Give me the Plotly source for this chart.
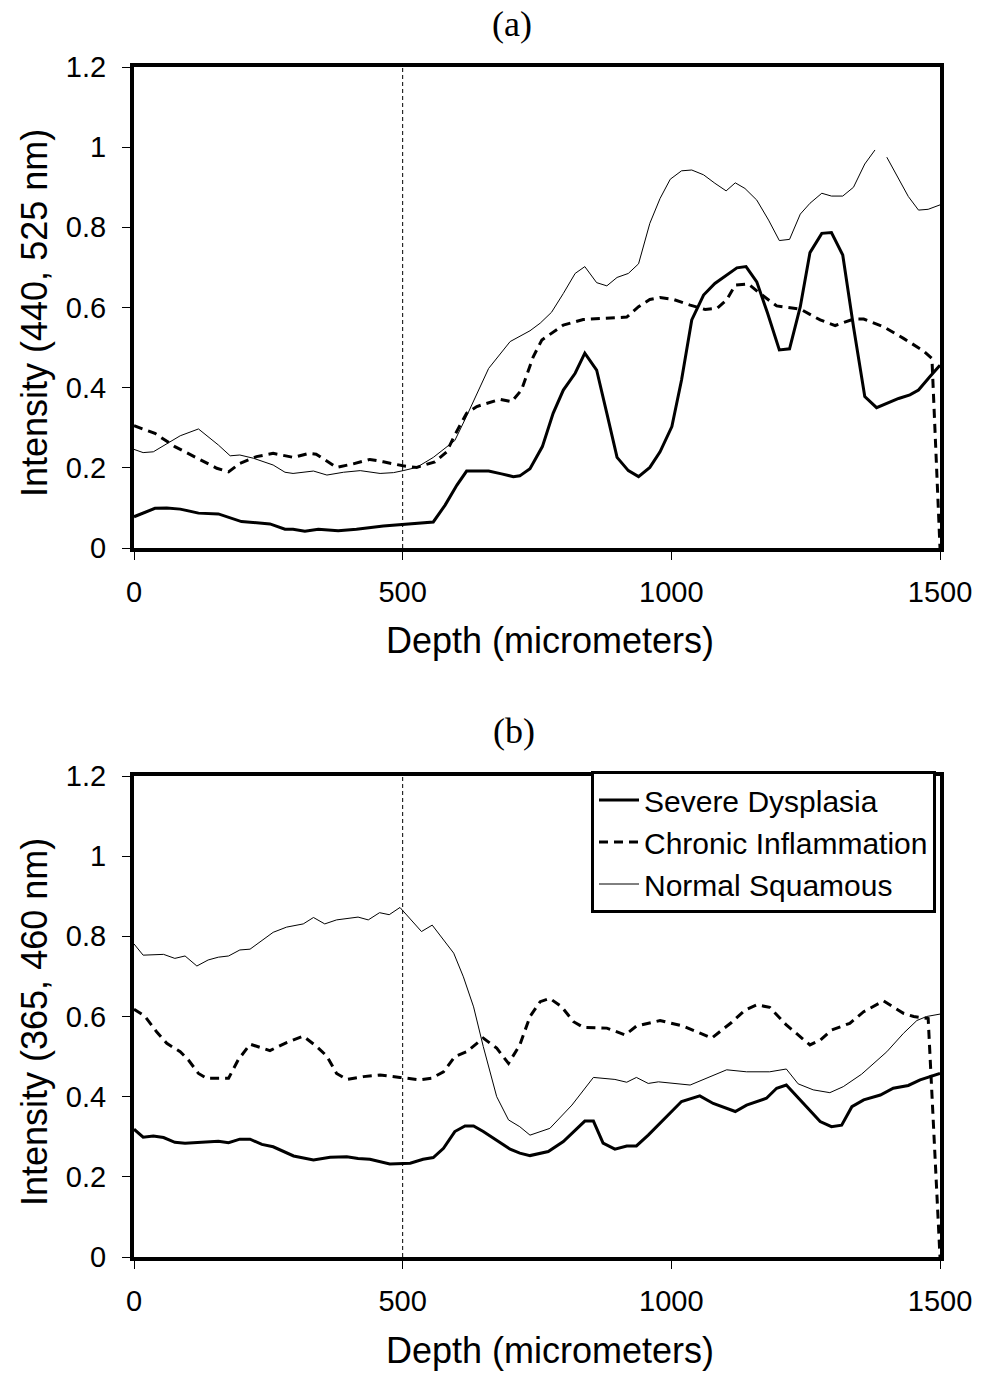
import plotly.graph_objects as go

# ---------------- data ----------------
series_names = ["Severe Dysplasia", "Chronic Inflammation", "Normal Squamous"]

# Panel (a): Intensity (440, 525 nm)
a_sd_x = [0, 39, 61, 86, 120, 157, 200, 253, 281, 296, 318, 343, 380, 414, 464, 501, 532, 557, 579, 601, 619, 660, 684, 706, 718, 737, 760, 780, 799, 821, 839, 861, 880, 899, 920, 939, 960, 979, 1001, 1019, 1038, 1060, 1081, 1103, 1122, 1139, 1159, 1179, 1201, 1220, 1240, 1258, 1280, 1298, 1319, 1339, 1360, 1382, 1401, 1423, 1444, 1460, 1481, 1500]
a_sd_y = [0.078, 0.099, 0.100, 0.097, 0.087, 0.085, 0.066, 0.060, 0.047, 0.047, 0.042, 0.047, 0.043, 0.047, 0.055, 0.059, 0.063, 0.065, 0.107, 0.157, 0.192, 0.192, 0.185, 0.178, 0.180, 0.198, 0.253, 0.336, 0.394, 0.436, 0.486, 0.444, 0.336, 0.226, 0.193, 0.178, 0.201, 0.240, 0.303, 0.419, 0.569, 0.631, 0.660, 0.681, 0.699, 0.702, 0.664, 0.586, 0.494, 0.497, 0.602, 0.737, 0.785, 0.787, 0.731, 0.552, 0.378, 0.350, 0.361, 0.373, 0.382, 0.394, 0.427, 0.456]

a_ci_x = [0, 39, 76, 117, 154, 176, 197, 228, 259, 297, 325, 339, 377, 408, 439, 464, 501, 526, 560, 582, 597, 619, 638, 681, 703, 721, 743, 759, 799, 836, 873, 917, 939, 960, 979, 1004, 1035, 1063, 1085, 1103, 1119, 1143, 1165, 1196, 1240, 1277, 1305, 1339, 1358, 1395, 1432, 1469, 1485, 1500]
a_ci_y = [0.305, 0.286, 0.253, 0.224, 0.199, 0.190, 0.211, 0.228, 0.236, 0.226, 0.236, 0.234, 0.201, 0.210, 0.221, 0.215, 0.205, 0.201, 0.215, 0.240, 0.282, 0.336, 0.353, 0.371, 0.365, 0.394, 0.477, 0.519, 0.556, 0.570, 0.573, 0.576, 0.602, 0.620, 0.625, 0.620, 0.606, 0.595, 0.598, 0.619, 0.656, 0.659, 0.635, 0.604, 0.596, 0.569, 0.555, 0.571, 0.571, 0.552, 0.523, 0.492, 0.473, 0.0]

a_ns_x = [0, 17, 36, 61, 86, 120, 157, 179, 197, 222, 259, 281, 296, 334, 359, 390, 421, 458, 483, 501, 526, 557, 597, 619, 638, 660, 700, 737, 756, 777, 799, 821, 839, 861, 880, 899, 920, 939, 960, 979, 998, 1019, 1038, 1060, 1081, 1102, 1119, 1137, 1159, 1181, 1201, 1220, 1240, 1258, 1280, 1298, 1319, 1339, 1360, 1379, 1390, 1401, 1419, 1441, 1460, 1478, 1500]
a_ns_y = [0.246, 0.238, 0.240, 0.261, 0.280, 0.297, 0.257, 0.230, 0.232, 0.224, 0.207, 0.189, 0.186, 0.192, 0.182, 0.189, 0.193, 0.186, 0.188, 0.193, 0.201, 0.226, 0.268, 0.329, 0.386, 0.448, 0.515, 0.542, 0.561, 0.588, 0.635, 0.685, 0.702, 0.662, 0.654, 0.675, 0.685, 0.709, 0.810, 0.872, 0.920, 0.941, 0.943, 0.931, 0.910, 0.891, 0.911, 0.897, 0.868, 0.818, 0.767, 0.770, 0.833, 0.860, 0.885, 0.878, 0.878, 0.900, 0.958, 0.993, None, 0.975, 0.931, 0.877, 0.843, 0.845, 0.856]

# Panel (b): Intensity (365, 460 nm)
b_sd_x = [0, 17, 36, 55, 76, 95, 157, 176, 197, 216, 238, 259, 297, 334, 365, 396, 417, 439, 476, 514, 538, 557, 576, 597, 616, 632, 650, 675, 700, 718, 737, 771, 799, 839, 855, 873, 895, 917, 935, 957, 997, 1019, 1053, 1078, 1119, 1140, 1177, 1196, 1214, 1240, 1277, 1298, 1317, 1336, 1358, 1389, 1413, 1441, 1463, 1500]
b_sd_y = [0.319, 0.299, 0.302, 0.298, 0.286, 0.284, 0.289, 0.285, 0.294, 0.294, 0.281, 0.275, 0.252, 0.242, 0.249, 0.250, 0.246, 0.244, 0.232, 0.234, 0.244, 0.248, 0.271, 0.313, 0.327, 0.327, 0.313, 0.292, 0.269, 0.259, 0.253, 0.263, 0.288, 0.339, 0.339, 0.284, 0.269, 0.277, 0.277, 0.304, 0.359, 0.388, 0.402, 0.383, 0.363, 0.379, 0.396, 0.421, 0.429, 0.392, 0.338, 0.325, 0.329, 0.375, 0.392, 0.404, 0.421, 0.428, 0.442, 0.458]

b_ci_x = [0, 20, 42, 61, 86, 101, 120, 135, 176, 194, 216, 253, 284, 315, 340, 359, 377, 396, 427, 458, 495, 532, 554, 576, 597, 619, 650, 675, 697, 718, 737, 756, 774, 796, 818, 836, 880, 914, 935, 979, 1022, 1075, 1112, 1137, 1159, 1183, 1214, 1258, 1277, 1298, 1332, 1358, 1395, 1432, 1451, 1478, 1500]
b_ci_y = [0.618, 0.601, 0.562, 0.533, 0.512, 0.492, 0.458, 0.446, 0.446, 0.492, 0.531, 0.515, 0.535, 0.551, 0.525, 0.501, 0.458, 0.443, 0.450, 0.454, 0.448, 0.442, 0.446, 0.462, 0.500, 0.512, 0.546, 0.521, 0.483, 0.529, 0.600, 0.637, 0.645, 0.624, 0.587, 0.573, 0.571, 0.554, 0.576, 0.590, 0.576, 0.546, 0.585, 0.616, 0.629, 0.623, 0.579, 0.529, 0.541, 0.566, 0.583, 0.612, 0.639, 0.608, 0.600, 0.595, 0.0]

b_ns_x = [0, 17, 55, 76, 95, 117, 138, 157, 176, 197, 216, 259, 284, 315, 334, 355, 377, 417, 436, 457, 475, 495, 535, 555, 595, 613, 632, 650, 675, 697, 718, 737, 774, 815, 855, 895, 917, 935, 957, 976, 1035, 1066, 1103, 1140, 1183, 1214, 1236, 1264, 1295, 1320, 1354, 1401, 1432, 1457, 1475, 1500]
b_ns_y = [0.781, 0.753, 0.755, 0.745, 0.751, 0.726, 0.741, 0.748, 0.751, 0.766, 0.768, 0.810, 0.823, 0.831, 0.847, 0.831, 0.841, 0.848, 0.841, 0.859, 0.854, 0.872, 0.812, 0.828, 0.758, 0.699, 0.624, 0.525, 0.400, 0.342, 0.325, 0.304, 0.321, 0.379, 0.448, 0.443, 0.436, 0.448, 0.433, 0.437, 0.429, 0.446, 0.467, 0.462, 0.462, 0.469, 0.432, 0.417, 0.410, 0.425, 0.456, 0.512, 0.558, 0.590, 0.600, 0.606]

x_ticks = [0, 500, 1000, 1500]
y_ticks = [0, 0.2, 0.4, 0.6, 0.8, 1.0, 1.2]
marker_depth = 500
panel_titles = ["(a)", "(b)"]
y_titles = ["Intensity (440, 525 nm)", "Intensity (365, 460 nm)"]
x_title = "Depth (micrometers)"

# ---------------- styling ----------------
SANS = "Liberation Sans, Arial, sans-serif"
SERIF = "Liberation Serif, Times New Roman, serif"
styles = [
    dict(color="black", width=3),
    dict(color="black", width=3, dash="9px,6px"),
    dict(color="black", width=1),
]

fig = go.Figure()

panels = [
    ("x", "y", [(a_sd_x, a_sd_y), (a_ci_x, a_ci_y), (a_ns_x, a_ns_y)], False),
    ("x2", "y2", [(b_sd_x, b_sd_y), (b_ci_x, b_ci_y), (b_ns_x, b_ns_y)], True),
]
for xa, ya, data, show in panels:
    for name, (xs, ys), st in zip(series_names, data, styles):
        fig.add_trace(go.Scatter(
            x=xs, y=ys, name=name, mode="lines", line=st,
            xaxis=xa, yaxis=ya, showlegend=show, connectgaps=False,
        ))

# body margin is removed by post_script, so figure coords = page px
W, H = 981, 1376
ML = 134
MR = W - 940
MT = 67
MB = H - 1257
plot_h = H - MT - MB
plot_w = W - ML - MR


def py(px):
    return (H - MB - px) / plot_h


def pxx(px):
    return (px - ML) / plot_w


axis_common = dict(
    showline=True, mirror=True, linecolor="black", linewidth=4,
    showgrid=False, zeroline=False, ticks="outside", ticklen=8,
    tickwidth=1, tickcolor="black",
    tickfont=dict(family=SANS, size=29, color="black"),
)

fig.update_layout(
    width=W, height=H,
    margin=dict(l=ML, r=MR, t=MT, b=MB, autoexpand=False),
    paper_bgcolor="white", plot_bgcolor="white",
    xaxis=dict(domain=[0, 1], range=[0, 1500], tickvals=x_ticks, anchor="y",
               ticklabelstandoff=7, **axis_common),
    yaxis=dict(domain=[py(548), 1.0], range=[0, 1.2], tickvals=y_ticks, anchor="x",
               ticklabelstandoff=10, **axis_common),
    xaxis2=dict(domain=[0, 1], range=[0, 1500], tickvals=x_ticks, anchor="y2",
                ticklabelstandoff=7, **axis_common),
    yaxis2=dict(domain=[0, py(776)], range=[0, 1.2], tickvals=y_ticks, anchor="x2",
                ticklabelstandoff=10, **axis_common),
    legend=dict(
        x=pxx(936), y=py(771), xanchor="right", yanchor="top",
        bgcolor="white", bordercolor="black", borderwidth=3,
        font=dict(family=SANS, size=30, color="black"),
        tracegroupgap=0, itemwidth=40,
    ),
    showlegend=True,
)

for xref, yref in [("x", "y domain"), ("x2", "y2 domain")]:
    fig.add_shape(type="line", xref=xref, yref=yref, x0=marker_depth, x1=marker_depth,
                  y0=0, y1=1, line=dict(color="black", width=1, dash="4px,3px"))

annotations = [
    dict(text=panel_titles[0], x=pxx(512), y=py(24), font=dict(family=SERIF, size=36)),
    dict(text=panel_titles[1], x=pxx(514), y=py(731), font=dict(family=SERIF, size=36)),
    dict(text=x_title, x=pxx(550), y=py(640), font=dict(family=SANS, size=36)),
    dict(text=x_title, x=pxx(550), y=py(1350), font=dict(family=SANS, size=36)),
    dict(text=y_titles[0], x=pxx(34), y=py(313), textangle=-90, font=dict(family=SANS, size=36)),
    dict(text=y_titles[1], x=pxx(34), y=py(1022), textangle=-90, font=dict(family=SANS, size=36)),
]
for a in annotations:
    a.update(xref="paper", yref="paper", showarrow=False, xanchor="center", yanchor="middle")
    a["font"]["color"] = "black"
    fig.add_annotation(**a)

fig.write_html(
    "out.html",
    config={"displayModeBar": False},
    post_script=["document.body.style.margin='0px'; document.body.style.overflow='hidden';"],
)
